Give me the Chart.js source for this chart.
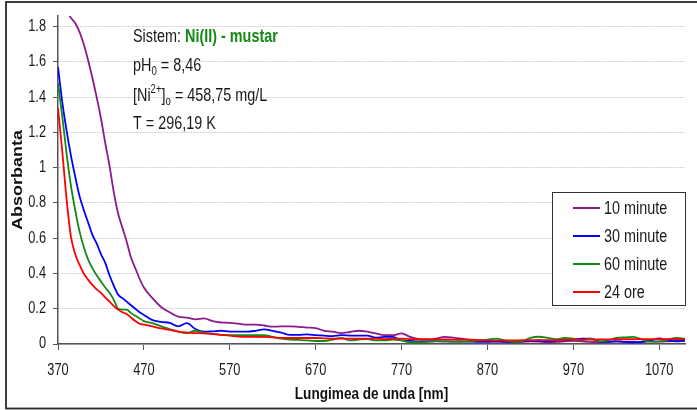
<!DOCTYPE html>
<html>
<head>
<meta charset="utf-8">
<title>Absorbanta - Ni(II) - mustar</title>
<script src="https://cdn.jsdelivr.net/npm/chart.js@4/dist/chart.umd.min.js"></script>
<style>
  html, body { margin: 0; padding: 0; background: #fff; }
  #wrap { width: 697px; height: 410px; }
</style>
</head>
<body>
<div id="wrap"><canvas id="spectra" width="697" height="410"></canvas></div>
<script>
'use strict';

const FONT = '"Liberation Sans", Arial, sans-serif';
const SQUEEZE = 0.8;   // narrow glyphs, Arial Narrow style
const INK = '#1a1a1a';

// ── Data ──────────────────────────────────────────────────────
const wavelengths = [
  370, 375, 380, 385, 390, 395, 400, 405, 410, 415, 420, 425, 430, 435, 440, 445, 450, 455, 460, 465, 470,
  480, 490, 500, 510, 520, 530, 540, 550, 560, 570,
  580, 590, 600, 610, 620, 630, 640, 650, 660, 670,
  680, 690, 700, 710, 720, 730, 740, 750, 760, 770,
  780, 790, 800, 810, 820, 830, 840, 850, 860, 870,
  880, 890, 900, 910, 920, 930, 940, 950, 960, 970,
  980, 990, 1000, 1010, 1020, 1030, 1040, 1050, 1060, 1070,
  1080, 1090, 1100
];

const abs10min = [
  1.98, 1.95, 1.89, 1.85, 1.82, 1.77, 1.70, 1.61, 1.51, 1.40, 1.28, 1.14, 1.01, 0.86, 0.74, 0.66, 0.58, 0.49, 0.43, 0.37, 0.32,
  0.26, 0.21, 0.18, 0.155, 0.15, 0.14, 0.145, 0.13, 0.122, 0.12,
  0.115, 0.11, 0.11, 0.105, 0.098, 0.10, 0.10, 0.097, 0.093, 0.09,
  0.075, 0.07, 0.062, 0.068, 0.075, 0.07, 0.06, 0.05, 0.05, 0.06,
  0.04, 0.028, 0.025, 0.03, 0.04, 0.036, 0.03, 0.023, 0.02, 0.015,
  0.015, 0.012, 0.01, 0.012, 0.015, 0.013, 0.01, 0.012, 0.015, 0.018,
  0.015, 0.012, 0.01, 0.013, 0.015, 0.012, 0.01, 0.012, 0.015, 0.013,
  0.015, 0.018, 0.02
];

const abs30min = [
  1.57, 1.37, 1.21, 1.07, 0.95, 0.84, 0.76, 0.69, 0.62, 0.57, 0.51, 0.46, 0.39, 0.33, 0.28, 0.26, 0.24, 0.22, 0.20, 0.18, 0.165,
  0.135, 0.125, 0.12, 0.10, 0.118, 0.085, 0.07, 0.072, 0.075, 0.07,
  0.07, 0.07, 0.075, 0.083, 0.075, 0.065, 0.052, 0.052, 0.055, 0.05,
  0.047, 0.045, 0.05, 0.048, 0.047, 0.047, 0.036, 0.04, 0.04, 0.02,
  0.018, 0.015, 0.015, 0.016, 0.015, 0.014, 0.015, 0.013, 0.012, 0.012,
  0.014, 0.013, 0.012, 0.015, 0.018, 0.016, 0.015, 0.02, 0.022, 0.025,
  0.03, 0.03, 0.015, 0.012, 0.015, 0.012, 0.01, 0.012, 0.02, 0.032,
  0.02, 0.015, 0.02
];

const abs60min = [
  1.48, 1.29, 1.08, 0.90, 0.76, 0.64, 0.55, 0.48, 0.43, 0.39, 0.355, 0.32, 0.29, 0.25, 0.20, 0.195, 0.195, 0.175, 0.16, 0.145, 0.13,
  0.118, 0.10, 0.085, 0.07, 0.062, 0.075, 0.064, 0.058, 0.052, 0.05,
  0.05, 0.05, 0.05, 0.05, 0.04, 0.03, 0.025, 0.023, 0.02, 0.017,
  0.017, 0.025, 0.034, 0.02, 0.025, 0.028, 0.02, 0.02, 0.025, 0.02,
  0.01, 0.01, 0.012, 0.015, 0.015, 0.013, 0.012, 0.015, 0.02, 0.025,
  0.03, 0.02, 0.012, 0.015, 0.035, 0.041, 0.035, 0.028, 0.034, 0.03,
  0.022, 0.03, 0.015, 0.02, 0.034, 0.038, 0.04, 0.025, 0.013, 0.015,
  0.025, 0.034, 0.03
];

const abs24h = [
  1.34, 1.09, 0.82, 0.61, 0.51, 0.45, 0.40, 0.365, 0.335, 0.31, 0.29, 0.265, 0.24, 0.215, 0.195, 0.18, 0.17, 0.15, 0.13, 0.115, 0.11,
  0.10, 0.088, 0.08, 0.07, 0.065, 0.062, 0.06, 0.056, 0.052, 0.048,
  0.042, 0.04, 0.04, 0.04, 0.038, 0.034, 0.034, 0.034, 0.034, 0.034,
  0.032, 0.03, 0.03, 0.03, 0.03, 0.03, 0.03, 0.028, 0.03, 0.03,
  0.028, 0.027, 0.027, 0.026, 0.026, 0.025, 0.025, 0.024, 0.022, 0.02,
  0.019, 0.02, 0.02, 0.022, 0.022, 0.023, 0.022, 0.022, 0.023, 0.024,
  0.025, 0.025, 0.026, 0.026, 0.027, 0.027, 0.027, 0.028, 0.028, 0.028,
  0.028, 0.028, 0.028
];

const seriesLabels = ['10 minute', '30 minute', '60 minute', '24 ore'];
const seriesColors = ['#8b1a8b', '#0000ff', '#138a13', '#ff0000'];
const xTicks = [370, 470, 570, 670, 770, 870, 970, 1070];
const yTicks = [0, 0.2, 0.4, 0.6, 0.8, 1, 1.2, 1.4, 1.6, 1.8];

// ── Helpers ───────────────────────────────────────────────────
// draws horizontally squeezed text, returns the x where the next run starts
function putText(ctx, text, x, y, font, color, align = 'left') {
  ctx.save();
  ctx.font = font;
  ctx.fillStyle = color;
  ctx.textAlign = align;
  ctx.translate(x, y);
  ctx.scale(SQUEEZE, 1);
  ctx.fillText(text, 0, 0);
  const w = ctx.measureText(text).width * SQUEEZE;
  ctx.restore();
  return x + w;
}

// ── Plugins ───────────────────────────────────────────────────
const frame = {
  id: 'frame',
  afterDraw(chart) {
    const ctx = chart.ctx;
    ctx.save();
    ctx.strokeStyle = '#2a2a2a';
    ctx.lineWidth = 1.8;
    ctx.strokeRect(6, 2, 720, 406.5);
    ctx.restore();
  }
};

const axisText = {
  id: 'axisText',
  afterDraw(chart) {
    const ctx = chart.ctx;
    const { x: xs, y: ys } = chart.scales;
    const area = chart.chartArea;
    const tickFont = '16px ' + FONT;
    ctx.save();
    ctx.textBaseline = 'middle';

    xTicks.forEach(v => putText(ctx, String(v), xs.getPixelForValue(v), 371, tickFont, INK, 'center'));
    yTicks.forEach(v => putText(ctx, String(v), 46, ys.getPixelForValue(v), tickFont, INK, 'right'));

    putText(ctx, 'Lungimea de unda [nm]', (area.left + area.right) / 2, 394, 'bold 17px ' + FONT, '#111', 'center');

    // vertical title: glyphs narrowed across the page, full length along it
    ctx.translate(18, (area.top + area.bottom) / 2);
    ctx.rotate(-Math.PI / 2);
    ctx.scale(1, SQUEEZE);
    ctx.font = 'bold 18px ' + FONT;
    ctx.fillStyle = '#111';
    ctx.textAlign = 'center';
    ctx.fillText('Absorbanta', 0, 0);
    ctx.restore();
  }
};

const infoText = {
  id: 'infoText',
  afterDraw(chart) {
    const ctx = chart.ctx;
    const big = '18px ' + FONT;
    const small = '12px ' + FONT;
    ctx.save();
    ctx.textBaseline = 'alphabetic';

    let x = putText(ctx, 'Sistem: ', 133, 42, big, INK);
    putText(ctx, 'Ni(II) - mustar', x, 42, 'bold 18px ' + FONT, '#138a13');

    x = putText(ctx, 'pH', 133, 71, big, INK);
    x = putText(ctx, '0', x, 75, small, INK);
    putText(ctx, ' = 8,46', x, 71, big, INK);

    x = putText(ctx, '[Ni', 133, 101, big, INK);
    x = putText(ctx, '2+', x, 93, small, INK);
    x = putText(ctx, ']', x, 101, big, INK);
    x = putText(ctx, 'o', x, 105, small, INK);
    putText(ctx, ' = 458,75 mg/L', x, 101, big, INK);

    putText(ctx, 'T = 296,19 K', 133, 129, big, INK);
    ctx.restore();
  }
};

const legendBox = {
  id: 'legendBox',
  afterDraw(chart) {
    const ctx = chart.ctx;
    const left = 552, top = 192, w = 133, h = 113;
    ctx.save();
    ctx.fillStyle = '#fff';
    ctx.fillRect(left, top, w, h);
    ctx.strokeStyle = '#333';
    ctx.lineWidth = 1;
    ctx.strokeRect(left + 0.5, top + 0.5, w, h);
    ctx.textBaseline = 'middle';
    chart.data.datasets.forEach((ds, i) => {
      const y = top + 16 + i * 28;
      ctx.strokeStyle = ds.borderColor;
      ctx.lineWidth = 2;
      ctx.beginPath();
      ctx.moveTo(573, y);
      ctx.lineTo(600, y);
      ctx.stroke();
      putText(ctx, ds.label, 604, y + 1, '18px ' + FONT, INK);
    });
    ctx.restore();
  }
};

// ── Chart ─────────────────────────────────────────────────────
const seriesValues = [abs10min, abs30min, abs60min, abs24h];

new Chart(document.getElementById('spectra'), {
  type: 'line',
  data: {
    datasets: seriesValues.map((vals, i) => ({
      label: seriesLabels[i],
      data: wavelengths.map((w, j) => ({ x: w, y: vals[j] })),
      borderColor: seriesColors[i],
      borderWidth: 1.8,
      pointRadius: 0,
      fill: false,
      cubicInterpolationMode: 'monotone',
      order: seriesValues.length - i
    }))
  },
  options: {
    responsive: false,
    animation: false,
    layout: { padding: { left: 6, right: 12, top: 16, bottom: 4 } },
    plugins: {
      legend: { display: false },
      tooltip: { enabled: false }
    },
    scales: {
      x: {
        type: 'linear',
        min: 370,
        max: 1100,
        afterBuildTicks: scale => { scale.ticks = xTicks.map(v => ({ value: v })); },
        afterFit: scale => { scale.height = 62; },
        grid: {
          drawOnChartArea: false,
          tickLength: 6,
          tickColor: '#555',
          color: '#555'
        },
        border: { color: '#555', width: 1.5 },
        ticks: { display: false }
      },
      y: {
        min: 0,
        max: 1.86,
        afterBuildTicks: scale => { scale.ticks = yTicks.map(v => ({ value: v })); },
        afterFit: scale => { scale.width = 52; },
        grid: {
          color: '#d2d2d2',
          tickColor: '#555',
          tickLength: 5,
          tickBorderDash: []
        },
        border: { color: '#555', width: 1.5, dash: [2, 1] },
        ticks: { display: false }
      }
    }
  },
  plugins: [frame, axisText, infoText, legendBox]
});
</script>
</body>
</html>
